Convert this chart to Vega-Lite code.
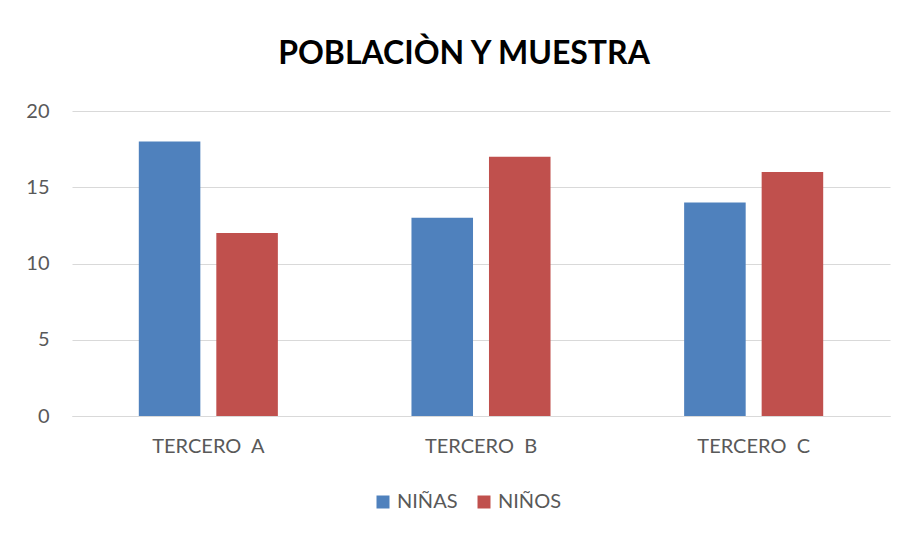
{
  "$schema": "https://vega.github.io/schema/vega-lite/v6.json",
  "width": 818,
  "height": 305,
  "autosize": {"type": "none"},
  "padding": {"left": 72, "top": 111, "right": 18, "bottom": 117},
  "background": "white",
  "title": {
    "text": "POBLACIÒN Y MUESTRA",
    "font": "Lato",
    "fontSize": 32,
    "fontWeight": "bold",
    "color": "#000000",
    "anchor": "middle",
    "dx": -17,
    "offset": 30
  },
  "data": {
    "values": [
      {"grupo": "TERCERO\u00a0 A", "sexo": "NIÑAS", "valor": 18},
      {"grupo": "TERCERO\u00a0 A", "sexo": "NIÑOS", "valor": 12},
      {"grupo": "TERCERO\u00a0 B", "sexo": "NIÑAS", "valor": 13},
      {"grupo": "TERCERO\u00a0 B", "sexo": "NIÑOS", "valor": 17},
      {"grupo": "TERCERO\u00a0 C", "sexo": "NIÑAS", "valor": 14},
      {"grupo": "TERCERO\u00a0 C", "sexo": "NIÑOS", "valor": 16}
    ]
  },
  "mark": {"type": "bar"},
  "encoding": {
    "x": {
      "field": "grupo",
      "type": "nominal",
      "sort": null,
      "title": null,
      "scale": {"paddingInner": 0.49, "paddingOuter": 0.245},
      "axis": {
        "labelAngle": 0,
        "ticks": false,
        "domainColor": "#d9d9d9",
        "domainWidth": 1,
        "labelFont": "Lato",
        "labelFontSize": 20,
        "labelColor": "#595959",
        "labelPadding": 20
      }
    },
    "xOffset": {
      "field": "sexo",
      "type": "nominal",
      "scale": {"paddingInner": 0.206, "paddingOuter": 0}
    },
    "y": {
      "field": "valor",
      "type": "quantitative",
      "title": null,
      "scale": {"domain": [0, 20]},
      "axis": {
        "values": [0, 5, 10, 15, 20],
        "ticks": false,
        "domain": false,
        "gridColor": "#d9d9d9",
        "labelFont": "Lato",
        "labelFontSize": 20,
        "labelColor": "#595959",
        "labelPadding": 23
      }
    },
    "color": {
      "field": "sexo",
      "type": "nominal",
      "title": null,
      "scale": {"domain": ["NIÑAS", "NIÑOS"], "range": ["#4F81BD", "#C0504D"]},
      "legend": {
        "orient": "none",
        "legendX": 301,
        "legendY": 381,
        "direction": "horizontal",
        "symbolType": "square",
        "symbolSize": 169,
        "symbolStrokeWidth": 0,
        "symbolOpacity": 1,
        "labelFont": "Lato",
        "labelFontSize": 20,
        "labelColor": "#595959",
        "columnPadding": 16
      }
    }
  },
  "config": {
    "view": {"stroke": null}
  }
}
